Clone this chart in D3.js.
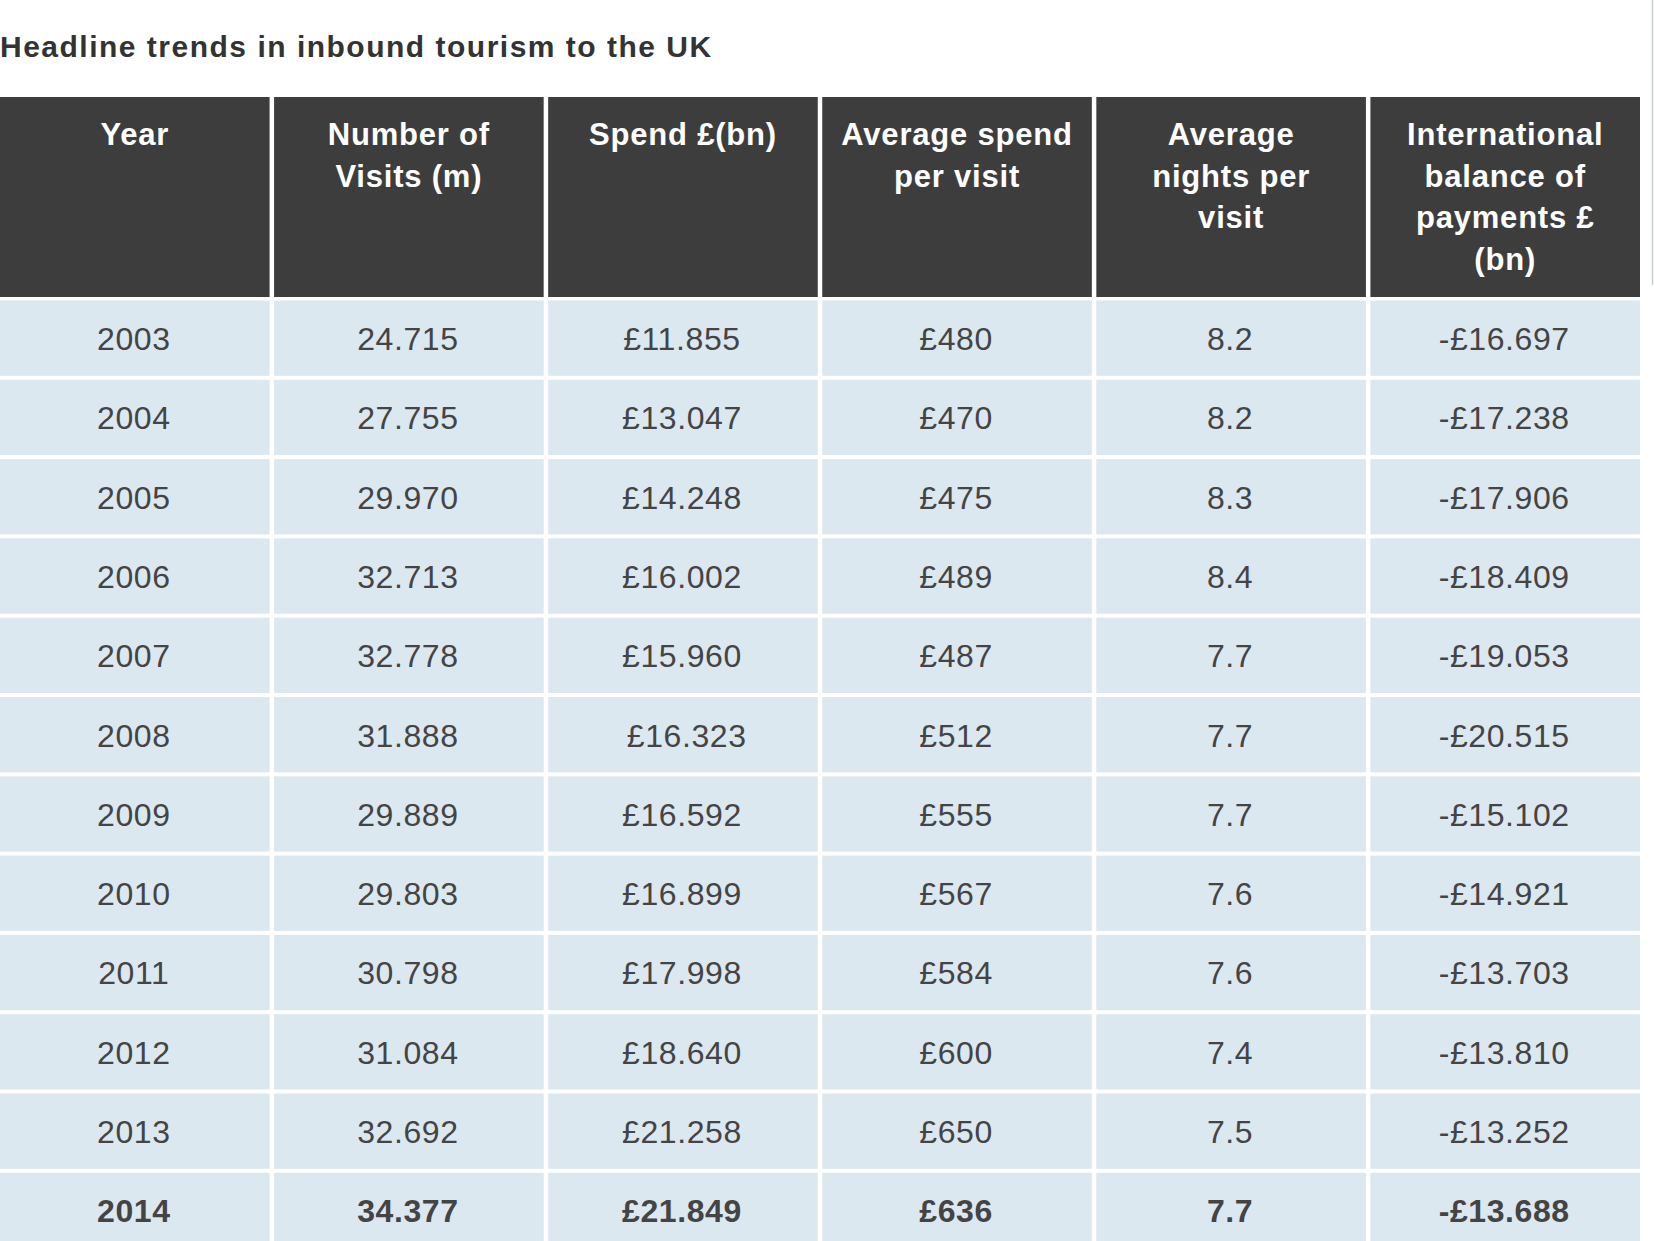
<!DOCTYPE html>
<html>
<head>
<meta charset="utf-8">
<script src="https://cdn.jsdelivr.net/npm/d3@7/dist/d3.min.js"></script>
<style>
  html, body { margin: 0; padding: 0; background: #ffffff; overflow: hidden; }
  svg { display: block; }
</style>
</head>
<body>
<svg id="chart" width="1654" height="1241"></svg>
<script>
const title = "Headline trends in inbound tourism to the UK";
const headers = [
  ["Year"],
  ["Number of", "Visits (m)"],
  ["Spend £(bn)"],
  ["Average spend", "per visit"],
  ["Average", "nights per", "visit"],
  ["International", "balance of", "payments £", "(bn)"]
];
const years = ["2003","2004","2005","2006","2007","2008","2009","2010","2011","2012","2013","2014"];
const visits = ["24.715","27.755","29.970","32.713","32.778","31.888","29.889","29.803","30.798","31.084","32.692","34.377"];
const spend = ["£11.855","£13.047","£14.248","£16.002","£15.960","\u00a0£16.323","£16.592","£16.899","£17.998","£18.640","£21.258","£21.849"];
const avgSpend = ["£480","£470","£475","£489","£487","£512","£555","£567","£584","£600","£650","£636"];
const avgNights = ["8.2","8.2","8.3","8.4","7.7","7.7","7.7","7.6","7.6","7.4","7.5","7.7"];
const balance = ["-£16.697","-£17.238","-£17.906","-£18.409","-£19.053","-£20.515","-£15.102","-£14.921","-£13.703","-£13.810","-£13.252","-£13.688"];
const boldRows = ["2014"];

const columns = [years, visits, spend, avgSpend, avgNights, balance];
const rows = years.map((y, i) => columns.map(c => c[i]));

const FONT = "Liberation Sans, Arial, sans-serif";
const svg = d3.select("#chart");

// title
svg.append("text")
  .attr("x", 0).attr("y", 57)
  .attr("font-family", FONT)
  .attr("font-weight", "bold")
  .attr("font-size", 30)
  .attr("letter-spacing", 1.5)
  .attr("fill", "#333333")
  .text(title);

// right-side thin line
svg.append("line")
  .attr("x1", 1652.5).attr("x2", 1652.5).attr("y1", 0).attr("y2", 285)
  .attr("stroke", "#c8cdd0").attr("stroke-width", 1.5);

const colGap = 4.5, colStep = 274;
const x = d3.scaleBand()
  .domain(d3.range(headers.length))
  .range([0, 1640])
  .paddingInner(colGap / colStep);

const headerTop = 97, headerBottom = 297;
const rowStep = 79.3, rowGap = 4;
const y = d3.scaleBand()
  .domain(years)
  .range([300.5, 300.5 + rowStep * years.length - rowGap])
  .paddingInner(rowGap / rowStep);

// header
const hg = svg.append("g");
hg.selectAll("rect")
  .data(headers)
  .join("rect")
  .attr("x", (d, i) => x(i))
  .attr("y", headerTop)
  .attr("width", x.bandwidth())
  .attr("height", headerBottom - headerTop)
  .attr("fill", "#3d3d3d");

hg.selectAll("text")
  .data(headers)
  .join("text")
  .attr("x", (d, i) => x(i) + x.bandwidth() / 2)
  .attr("y", headerTop + 48)
  .attr("text-anchor", "middle")
  .attr("font-family", FONT)
  .attr("font-weight", "bold")
  .attr("font-size", 31)
  .attr("letter-spacing", 0.8)
  .attr("fill", "#ffffff")
  .each(function(d) {
    const tx = d3.select(this).attr("x");
    d3.select(this).selectAll("tspan")
      .data(d)
      .join("tspan")
      .attr("x", tx)
      .attr("dy", (t, j) => j === 0 ? 0 : 41.7)
      .text(t => t);
  });

// body
const bg = svg.append("g");
const rowG = bg.selectAll("g.row")
  .data(rows)
  .join("g")
  .attr("class", "row")
  .attr("transform", (d, i) => `translate(0,${y(years[i])})`);

rowG.selectAll("rect")
  .data(d => d)
  .join("rect")
  .attr("x", (d, i) => x(i))
  .attr("y", 0)
  .attr("width", x.bandwidth())
  .attr("height", y.bandwidth())
  .attr("fill", "#dce8f0");

rowG.each(function(r) {
  const bold = boldRows.includes(r[0]);
  d3.select(this).selectAll("text")
    .data(r)
    .join("text")
    .attr("x", (d, i) => x(i) + x.bandwidth() / 2 - 1)
    .attr("y", 49.5)
    .attr("text-anchor", "middle")
    .attr("font-family", FONT)
    .attr("font-weight", bold ? "bold" : "normal")
    .attr("font-size", 32)
    .attr("letter-spacing", 0.6)
    .attr("fill", "#444444")
    .text(d => d);
});
</script>
</body>
</html>
